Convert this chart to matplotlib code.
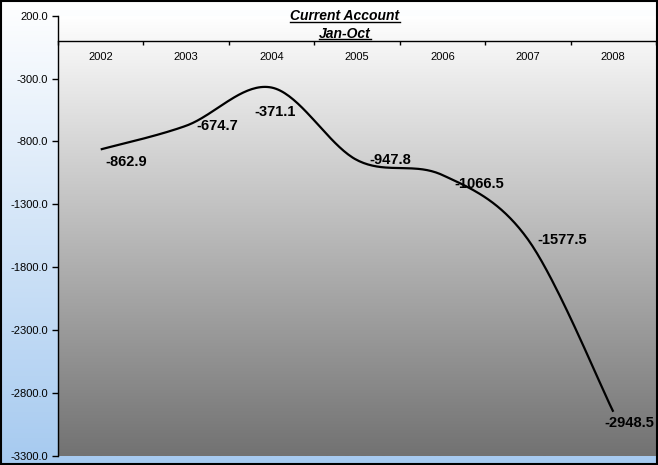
import numpy as np
import matplotlib
matplotlib.use("Agg")
import matplotlib.pyplot as plt
from matplotlib.lines import Line2D
from matplotlib.patches import Rectangle
from matplotlib.colors import LinearSegmentedColormap

plt.rcParams['font.family'] = ['Liberation Sans', 'DejaVu Sans']

# ---- data ----
years = ['2002', '2003', '2004', '2005', '2006', '2007', '2008']
values = [-862.9, -674.7, -371.1, -947.8, -1066.5, -1577.5, -2948.5]
y_ticks = [200.0, -300.0, -800.0, -1300.0, -1800.0, -2300.0, -2800.0, -3300.0]
title_lines = ['Current Account', 'Jan-Oct']

# label offsets in pixels (dx, dy) and horizontal alignment
label_offsets = [(5, -13, 'left'), (10, 0, 'left'), (3, -24, 'center'),
                 (12, 0, 'left'), (12, -9, 'left'), (10, -1, 'left'),
                 (-9, -11, 'left')]

W, H = 658, 465
fig = plt.figure(figsize=(W / 100, H / 100), dpi=100)

# figure background gradient (white -> light blue)
bg = fig.add_axes([0, 0, 1, 1], zorder=-10)
bg_cmap = LinearSegmentedColormap.from_list('bg', ['#FFFFFF', '#A6CAF0'])
bg.imshow(np.linspace(0, 1, 256).reshape(-1, 1), aspect='auto', cmap=bg_cmap,
          extent=[0, 1, 0, 1], origin='upper')
bg.set_axis_off()

# plot axes
left, right, top, bottom = 58, 656, 15.7, 456
ax = fig.add_axes([left / W, (H - bottom) / H, (right - left) / W, (bottom - top) / H])
ax.set_facecolor('none')
pa_cmap = LinearSegmentedColormap.from_list('pa', ['#FFFFFF', '#727272'])
ax.imshow(np.linspace(0, 1, 256).reshape(-1, 1), aspect='auto', cmap=pa_cmap,
          extent=[0, 1, 0, 1], origin='upper', transform=ax.transAxes, zorder=0)

x = np.arange(len(values))
ax.set_xlim(-0.5, len(values) - 0.5)
ax.set_ylim(min(y_ticks), max(y_ticks))

# smoothed line (Catmull-Rom bezier, like Excel smoothing)
pts = np.column_stack([x, values]).astype(float)
curve = []
n = len(pts)
for i in range(n - 1):
    p0 = pts[i - 1] if i > 0 else pts[i]
    p1 = pts[i]
    p2 = pts[i + 1]
    p3 = pts[i + 2] if i + 2 < n else pts[i + 1]
    c1 = p1 + (p2 - p0) / 6
    c2 = p2 - (p3 - p1) / 6
    t = np.linspace(0, 1, 40)[:, None]
    seg = ((1 - t) ** 3) * p1 + 3 * ((1 - t) ** 2) * t * c1 + 3 * (1 - t) * t ** 2 * c2 + t ** 3 * p2
    curve.append(seg if i == 0 else seg[1:])
curve = np.vstack(curve)
ax.plot(curve[:, 0], curve[:, 1], color='black', lw=1.6, zorder=3, solid_capstyle='butt')

for xi, v, (dx, dy, ha) in zip(x, values, label_offsets):
    ax.annotate(f'{v:.1f}', (xi, v), xytext=(dx, dy), textcoords='offset pixels',
                ha=ha, va='center', fontsize=10.5, fontweight='bold', color='black', zorder=4)

# y axis
ax.set_yticks(y_ticks)
ax.set_yticklabels([f'{t:.1f}' for t in y_ticks], fontsize=8)
ax.tick_params(axis='y', direction='out', length=4, width=1, color='black', pad=3)

# x axis at y = 0
for s in ['top', 'right']:
    ax.spines[s].set_visible(False)
ax.spines['bottom'].set_position(('data', 0))
ax.spines['bottom'].set_linewidth(1)
ax.spines['left'].set_linewidth(1)
ax.set_xticks(np.arange(-0.5, len(values), 1.0))
ax.set_xticklabels([])
ax.set_xticks(x, minor=True)
ax.set_xticklabels(years, minor=True, fontsize=8)
ax.tick_params(axis='x', which='major', direction='out', length=3, width=1, color='black')
ax.tick_params(axis='x', which='minor', length=0, pad=8)

# titles with underline
tx = 345 / W
title_y = [16.5, 33.5]
texts = []
for s, yy in zip(title_lines, title_y):
    texts.append(fig.text(tx, 1 - yy / H, s, ha='center', va='center', fontsize=10,
                          fontweight='bold', style='italic'))
fig.canvas.draw()
r = fig.canvas.get_renderer()
for t in texts:
    bb = t.get_window_extent(r)
    yl = (bb.y0 + 1) / H
    fig.add_artist(Line2D([bb.x0 / W, bb.x1 / W], [yl, yl], color='black', lw=1,
                          transform=fig.transFigure))

# outer border
fig.add_artist(Rectangle((0.001, 0.002), 0.997, 0.996, transform=fig.transFigure,
                         fill=False, edgecolor='black', lw=1.5))

fig.savefig('out.png', dpi=100)
